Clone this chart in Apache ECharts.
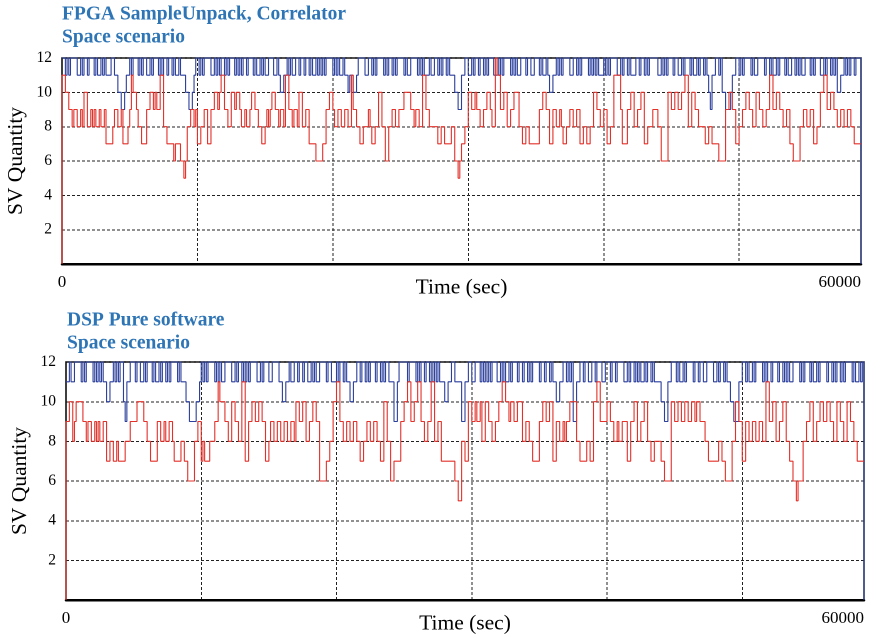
<!DOCTYPE html>
<html>
<head>
<meta charset="utf-8">
<script src="https://cdn.jsdelivr.net/npm/echarts@6/dist/echarts.min.js"></script>
<style>
  html, body { margin: 0; background: #fff; overflow: hidden; width: 880px; height: 638px; }
  /* drawn at double size and shrunk, so the short steps are not dropped by the line renderer */
  #chart { width: 1760px; height: 1276px; transform: scale(0.5); transform-origin: 0 0; }
</style>
</head>
<body>
<div id="chart"></div>
<script>
// time span of the sampled run (the axis end is labelled 60000)
const endTime = 59000;
const xLabels = ['0', '60000'];
const titles = ['FPGA SampleUnpack, Correlator\nSpace scenario', 'DSP Pure software\nSpace scenario'];

// SV quantity, one value per equal time slot
const fpgaBlue = [
  12,12,11,12,11,12,12,12,12,11,11,12,11,12,12,11,12,12,12,11, 12,11,11,12,11,12,11,11,11,12,12,11,11,10,10,9,9,10,11,11,
  12,11,12,12,12,11,12,11,12,12,11,11,12,11,12,12,12,11,12,11, 12,12,11,12,12,11,12,11,11,12,11,11,11,10,10,9,9,10,11,12,
  12,11,12,11,12,12,12,12,11,11,12,11,12,11,12,12,11,12,11,12, 12,12,11,12,11,12,11,12,12,11,12,12,12,11,12,11,11,12,11,12,
  11,11,12,12,12,11,11,12,11,10,10,11,11,12,11,12,11,11,12,12, 11,12,12,11,12,12,11,12,11,11,12,11,12,11,12,11,12,12,12,12,
  11,12,11,12,11,11,12,11,11,10,11,11,10,10,11,12,12,12,12,11, 11,12,12,11,12,11,12,12,12,12,11,12,11,12,12,11,12,11,12,12,
  12,12,11,12,11,11,12,12,12,12,11,12,11,12,11,11,11,12,11,11, 12,12,11,12,11,12,12,11,12,11,11,11,10,10,9,9,11,11,12,12,
  11,11,12,11,12,12,11,12,12,11,12,11,12,12,12,11,11,12,11,12, 11,12,12,12,12,11,12,11,12,11,11,12,12,12,11,12,12,11,11,12,
  12,12,11,12,11,11,12,11,10,10,11,11,12,11,12,11,12,12,12,12, 11,11,12,12,11,12,11,12,12,12,12,11,12,11,12,11,12,11,11,11,
  12,11,12,11,12,12,12,12,11,11,12,11,12,12,11,12,11,11,11,12, 12,11,12,12,11,12,11,12,12,12,12,12,11,11,12,11,12,11,12,12,
  12,11,12,12,11,11,12,11,12,12,12,11,12,11,11,12,11,12,12,11, 12,11,10,9,11,11,12,12,11,12,10,10,9,9,9,10,11,11,12,12,
  11,12,11,12,12,12,12,11,12,11,11,12,12,12,12,11,12,12,11,12, 11,11,12,11,12,12,12,11,12,11,11,12,12,11,12,11,12,11,11,12,
  12,12,11,12,11,12,12,12,11,11,12,11,12,12,11,12,11,12,10,10, 11,11,12,11,12,11,12,12,11,12,12,12
];
const fpgaRed = [
  11,11,10,10,9,9,8,9,9,8,8,9,8,10,10,8,8,9,8,9, 8,8,9,8,8,9,7,7,7,7,8,9,9,8,8,9,7,7,7,8,
  9,11,10,10,9,8,8,7,7,7,9,9,10,10,9,10,9,9,11,11, 8,8,7,7,7,7,6,7,7,7,6,6,5,6,8,8,9,9,8,9,
  7,7,8,8,9,9,7,7,9,9,10,10,9,10,11,11,9,9,8,8, 10,10,9,10,10,9,8,8,9,8,8,9,10,10,9,9,8,8,7,7,
  8,9,8,9,10,10,9,9,8,9,9,8,11,11,9,9,8,9,9,8, 10,10,8,8,9,9,7,7,7,7,6,6,6,6,7,7,9,9,10,10,
  9,8,8,9,9,8,8,9,9,8,8,11,9,9,8,8,7,7,8,8, 8,9,8,7,7,8,8,10,10,8,8,6,6,8,8,9,9,8,8,9,
  9,9,10,10,10,10,9,9,8,9,9,8,8,11,11,9,9,8,8,8, 8,8,7,7,8,8,7,7,7,7,8,8,6,6,5,6,7,7,8,8,
  10,10,9,9,10,9,9,8,8,9,9,10,10,9,8,8,12,11,11,9, 9,10,10,8,8,9,9,10,10,10,8,8,7,7,8,8,7,7,7,7,
  7,7,9,9,10,10,9,9,7,7,9,9,8,8,9,8,7,7,8,8, 9,9,8,8,9,9,7,7,8,8,7,7,8,8,10,10,9,9,8,8,
  9,9,7,7,8,8,11,11,11,11,9,7,7,7,9,9,10,10,8,8, 9,9,10,10,7,7,8,8,8,9,9,9,8,8,6,6,6,6,10,10,
  9,9,10,10,9,9,10,10,11,11,8,8,10,10,9,9,8,8,8,8, 7,7,8,8,7,7,7,7,6,6,6,6,9,9,10,10,9,9,7,7,
  8,8,9,9,10,10,9,9,8,8,10,10,9,9,8,8,9,9,11,11, 9,9,10,10,9,9,8,8,9,9,7,7,6,6,6,6,8,8,9,9,
  8,8,9,9,7,7,8,8,10,10,11,11,9,9,10,10, 9,9,8,8,9,9,8,8,9,9,8,8,7,7,7,7
];
const dspBlue = [
  11,11,12,11,11,12,12,12,12,11,12,11,12,12,12,12,11,12,11,12, 11,12,11,11,10,10,11,11,12,11,12,11,12,12,10,9,11,11,12,12,
  12,11,12,12,11,11,12,11,12,12,12,11,12,11,11,12,11,12,12,11, 12,11,12,12,12,12,11,12,11,11,11,10,10,9,9,9,9,10,10,11,
  12,11,12,11,12,12,12,12,11,12,11,12,11,11,12,12,12,12,11,11, 12,11,12,12,11,12,11,12,11,12,12,12,12,11,11,12,11,12,12,12,
  11,11,12,12,12,12,11,11,10,10,11,11,12,11,11,12,12,11,12,12, 11,12,12,11,11,12,11,12,11,11,12,12,12,12,11,12,12,11,11,11,
  12,11,12,12,11,12,11,11,10,10,11,11,12,12,11,12,12,11,12,11, 12,12,12,11,12,12,11,12,11,12,12,11,11,11,9,9,11,12,12,12,
  12,12,11,12,12,12,12,11,12,11,12,12,11,12,12,11,12,11,12,11, 12,11,11,11,10,10,11,11,12,12,11,11,11,11,9,9,11,11,12,12,
  11,11,12,12,12,11,12,11,12,11,12,11,12,12,12,11,11,12,11,12, 11,11,12,11,12,12,12,11,12,12,11,12,12,11,12,11,12,12,12,12,
  11,12,12,11,12,12,11,12,11,11,10,10,11,11,12,12,11,12,11,12, 9,9,11,11,12,12,11,12,12,11,11,12,12,11,12,12,12,11,11,12,
  12,12,11,12,12,11,12,12,12,12,11,11,12,11,12,12,11,12,11,12, 11,11,12,11,12,12,11,12,11,11,11,11,10,10,9,9,11,11,12,12,
  12,11,12,11,11,12,11,12,12,12,12,11,12,12,11,12,12,11,11,12, 12,12,12,11,11,12,11,12,12,11,12,11,11,10,10,9,9,9,11,11,
  12,12,11,12,11,11,12,11,12,12,12,12,11,12,11,12,12,11,12,12, 12,11,12,12,11,12,11,12,11,11,12,12,12,12,11,12,11,12,12,12,
  11,12,11,11,12,11,12,12,12,12,11,12,12,11,12,11,12,12,11,12, 11,12,12,12,12,11,12,11,11,12,11,12
];
const dspRed = [
  9,9,10,10,8,9,10,10,10,10,9,9,8,9,9,8,8,9,8,9, 8,8,9,9,7,7,8,8,7,7,8,7,7,7,7,8,8,8,9,9,
  9,9,10,10,10,10,9,9,8,8,7,7,7,7,9,9,8,8,9,8, 8,9,9,8,7,7,7,7,8,8,7,7,6,6,6,6,8,8,9,9,
  7,8,7,7,7,8,8,8,9,9,11,10,10,10,9,9,8,8,10,10, 9,9,8,8,11,11,7,7,9,9,10,10,9,9,10,10,9,9,7,7,
  8,9,9,8,8,9,9,8,8,9,9,8,8,9,9,8,10,10,9,9, 10,10,8,8,9,9,10,10,9,9,6,6,6,6,7,7,8,8,10,10,
  11,11,9,9,8,8,9,9,8,8,9,9,8,8,7,7,8,8,9,9, 8,8,9,9,8,8,7,7,10,10,8,8,6,6,7,7,7,7,9,9,
  10,10,11,11,9,9,10,10,11,11,9,9,8,8,9,9,11,11,8,8, 9,9,7,7,7,7,7,7,7,7,6,6,5,5,8,8,7,7,10,10,
  9,9,10,9,9,10,8,8,10,10,9,9,8,8,9,9,10,10,11,11, 10,10,9,10,10,9,9,10,10,10,8,8,9,9,8,8,7,7,7,7,
  9,9,10,10,9,9,10,10,7,7,9,9,8,8,9,8,9,9,10,10, 10,10,8,8,7,7,7,7,8,8,7,7,10,10,11,11,9,9,9,9,
  10,10,9,9,8,8,9,8,8,9,9,9,7,7,9,9,10,10,8,8, 9,9,10,10,8,8,7,7,8,8,8,8,7,7,6,6,6,6,10,10,
  9,9,10,10,9,9,10,10,9,9,10,10,9,10,10,9,9,9,8,8, 7,7,7,7,7,7,8,8,7,7,6,6,6,6,8,8,10,10,9,9,
  7,7,9,9,8,8,9,9,8,8,9,9,8,8,11,11,9,9,10,10, 8,8,9,9,10,10,8,8,7,7,6,6,5,6,6,6,8,8,9,9,
  10,10,8,8,9,9,10,10,9,9,10,10,9,9,8,8, 10,10,9,9,8,8,10,10,9,9,8,8,7,7,7,7
];

const BLUE = '#2b3f9c';
const RED = '#e3312a';
const serif = 'Liberation Serif';
const S = 2; // drawing scale, undone by the CSS transform

// turn equal-slot values into [time, value] points for a step line
function toPoints(vals, fromZero, toZero) {
  const slot = endTime / vals.length;
  const pts = [];
  if (fromZero) pts.push([0, 0]);
  vals.forEach((v, i) => pts.push([i * slot, v]));
  pts.push([endTime, vals[vals.length - 1]]);
  if (toZero) pts.push([endTime, 0]);
  return pts;
}

const grids = [
  { left: 62, right: 19, top: 58, bottom: 374 },
  { left: 66, right: 16, top: 362, bottom: 38 }
];

const dashed = { color: '#222', width: S, type: [3 * S, 2 * S] };

function makeX(idx) {
  return {
    type: 'value', gridIndex: idx, min: 0, max: endTime, interval: 10000,
    name: 'Time (sec)', nameLocation: 'middle', nameGap: 13 * S, nameMoveOverlap: false,
    nameTextStyle: { fontFamily: serif, fontSize: 21.5 * S, color: '#000' },
    axisLine: { show: true, lineStyle: { color: '#000', width: 2.5 * S } },
    axisTick: { show: false },
    axisLabel: {
      customValues: [0, endTime],
      formatter: v => v === 0 ? xLabels[0] : (v === endTime ? xLabels[1] : ''),
      fontFamily: serif, fontSize: 17 * S, color: '#000', margin: 10 * S,
      alignMinLabel: 'center', alignMaxLabel: 'right'
    },
    splitLine: { show: true, lineStyle: dashed }
  };
}

function makeY(idx) {
  return {
    type: 'value', gridIndex: idx, min: 0, max: 12, interval: 2,
    name: 'SV Quantity', nameLocation: 'middle', nameGap: 35 * S, nameRotate: 90, nameMoveOverlap: false,
    nameTextStyle: { fontFamily: serif, fontSize: 21.5 * S, color: '#000' },
    axisLine: { show: true, lineStyle: { color: '#000', width: S } },
    axisTick: { show: false },
    axisLabel: {
      formatter: v => v === 0 ? '' : String(v),
      fontFamily: serif, fontSize: 15.5 * S, color: '#000', margin: 10 * S
    },
    splitLine: { show: true, lineStyle: dashed }
  };
}

function stepSeries(vals, color, idx, fromZero, toZero) {
  return {
    type: 'line', step: 'end', xAxisIndex: idx, yAxisIndex: idx,
    data: toPoints(vals, fromZero, toZero),
    showSymbol: false, symbol: 'none',
    lineStyle: { color: color, width: 1.1 * S },
    itemStyle: { color: color }
  };
}

const chart = echarts.init(document.getElementById('chart'));
chart.setOption({
  animation: false,
  backgroundColor: '#fff',
  title: [
    { text: titles[0], left: 57 * S, top: -2 * S },
    { text: titles[1], left: 62 * S, top: 304 * S }
  ].map(t => Object.assign(t, {
    padding: 5 * S,
    textStyle: { fontFamily: serif, fontWeight: 'bold', fontSize: 19.5 * S, lineHeight: 23 * S, color: '#2e75b6' }
  })),
  grid: grids.map(g => ({
    show: true, borderColor: '#000', borderWidth: 1.5 * S,
    left: g.left * S, right: g.right * S, top: g.top * S, bottom: g.bottom * S
  })),
  xAxis: [makeX(0), makeX(1)],
  yAxis: [makeY(0), makeY(1)],
  series: [
    stepSeries(fpgaBlue, BLUE, 0, false, true),
    stepSeries(fpgaRed, RED, 0, true, false),
    stepSeries(dspBlue, BLUE, 1, false, true),
    stepSeries(dspRed, RED, 1, true, false)
  ]
});
</script>
</body>
</html>
